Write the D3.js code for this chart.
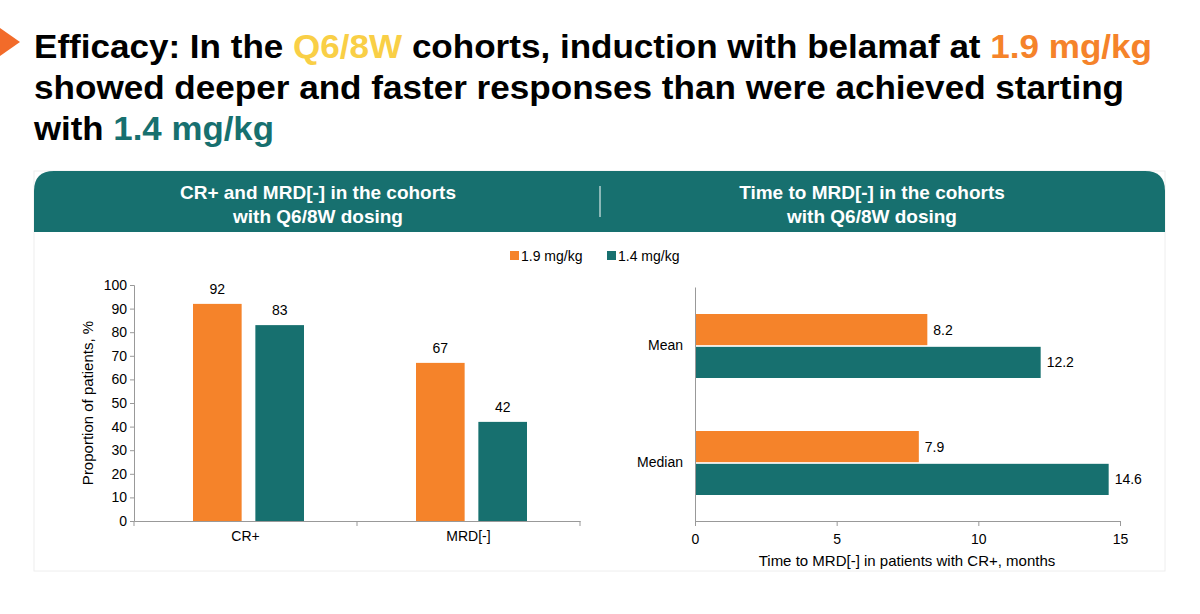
<!DOCTYPE html>
<html><head><meta charset="utf-8">
<script src="https://cdn.jsdelivr.net/npm/d3@7"></script>
<style>body{margin:0;background:#fff;font-family:"Liberation Sans",Arial,sans-serif}</style>
</head><body><svg id="c" width="1200" height="614"></svg>
<script>
var series = ["1.9 mg/kg", "1.4 mg/kg"];
var colors = ["#f5832a", "#17706f"];
var respCats = ["CR+", "MRD[-]"];
var respVals = [[92, 67], [83, 42]];   // per series
var timeCats = ["Mean", "Median"];
var timeVals = [[8.2, 7.9], [12.2, 14.6]];
var yTicks = d3.range(0, 101, 10);
var xTicks = [0, 5, 10, 15];

var svg = d3.select("#c");
var teal = "#17706f";

// title
var title = [
  [["Efficacy: In the ", "#000"], ["Q6/8W", "#f9cf46"], [" cohorts, induction with belamaf at ", "#000"], ["1.9 mg/kg", "#f5832a"]],
  [["showed deeper and faster responses than were achieved starting", "#000"]],
  [["with ", "#000"], ["1.4 mg/kg", teal]]
];
var titleLen = [1118, 1090, null];
svg.append("path").attr("d", "M0,28 L20,42 L0,56 Z").attr("fill", "#f26b2a");
title.forEach(function(line, i) {
  var t = svg.append("text").attr("x", 34).attr("y", 58 + i * 41)
    .style("font-size", "34px").style("font-weight", "bold");
  if (titleLen[i]) t.attr("textLength", titleLen[i]).attr("lengthAdjust", "spacingAndGlyphs");
  else t.attr("textLength", 240).attr("lengthAdjust", "spacingAndGlyphs");
  line.forEach(function(p) { t.append("tspan").attr("fill", p[1]).text(p[0]); });
});

// header band
svg.append("rect").attr("x", 34).attr("y", 171).attr("width", 1131).attr("height", 400)
  .attr("fill", "none").attr("stroke", "#eee");
svg.append("path").attr("d", "M34,232 V191 Q34,171 54,171 H1145 Q1165,171 1165,191 V232 Z").attr("fill", teal);
svg.append("line").attr("x1", 600).attr("x2", 600).attr("y1", 186).attr("y2", 217).attr("stroke", "#fff");
[[318, ["CR+ and MRD[-] in the cohorts", "with Q6/8W dosing"]], [872, ["Time to MRD[-] in the cohorts", "with Q6/8W dosing"]]].forEach(function(h) {
  h[1].forEach(function(s, i) {
    svg.append("text").attr("x", h[0]).attr("y", 199 + i * 24).attr("text-anchor", "middle")
      .attr("fill", "#fff").style("font-size", "19px").style("font-weight", "bold").text(s);
  });
});

// legend
series.forEach(function(s, i) {
  var lx = 510 + i * 97;
  svg.append("rect").attr("x", lx).attr("y", 251).attr("width", 9).attr("height", 9).attr("fill", colors[i]);
  svg.append("text").attr("x", lx + 11).attr("y", 261).style("font-size", "14px").text(s);
});

// left chart
var y = d3.scaleLinear().domain([0, 100]).range([521, 285]);
var x0 = d3.scaleBand().domain(respCats).range([134, 580]);
var x1 = d3.scaleBand().domain([0, 1]).range([59, 170]).paddingInner(0.22);
var gl = svg.append("g");
respCats.forEach(function(c, ci) {
  series.forEach(function(s, si) {
    var v = respVals[si][ci], bx = x0(c) + x1(si);
    gl.append("rect").attr("x", bx).attr("y", y(v)).attr("width", x1.bandwidth())
      .attr("height", 521 - y(v)).attr("fill", colors[si]);
    gl.append("text").attr("x", bx + x1.bandwidth() / 2).attr("y", y(v) - 10)
      .attr("text-anchor", "middle").style("font-size", "14px").text(v);
  });
});
gl.append("g").attr("transform", "translate(134,0)")
  .call(d3.axisLeft(y).tickValues(yTicks).tickSize(4));
var xa = gl.append("g").attr("transform", "translate(0,521)")
  .call(d3.axisBottom(x0).tickSize(0).tickPadding(10));
xa.selectAll("line.b").data([134, 357, 580]).enter().append("line")
  .attr("x1", function(d) { return d; }).attr("x2", function(d) { return d; })
  .attr("y1", 0).attr("y2", 5).attr("stroke", "#999");
gl.append("text").attr("transform", "translate(93,403) rotate(-90)").attr("text-anchor", "middle")
  .style("font-size", "15px").text("Proportion of patients, %");

// right chart
var xr = d3.scaleLinear().domain([0, 15]).range([695, 1120]);
var yr0 = d3.scaleBand().domain(timeCats).range([287, 521]);
var yr1 = d3.scaleBand().domain([0, 1]).range([27, 91]).paddingInner(0.05);
var gr = svg.append("g");
timeCats.forEach(function(c, ci) {
  series.forEach(function(s, si) {
    var v = timeVals[si][ci], by = yr0(c) + yr1(si);
    gr.append("rect").attr("x", xr(0)).attr("y", by).attr("width", xr(v) - xr(0))
      .attr("height", yr1.bandwidth()).attr("fill", colors[si]);
    gr.append("text").attr("x", xr(v) + 6).attr("y", by + yr1.bandwidth() / 2 + 5)
      .style("font-size", "14px").text(v.toFixed(1));
  });
});
gr.append("g").attr("transform", "translate(695,0)")
  .call(d3.axisLeft(yr0).tickSize(0).tickPadding(12));
gr.append("g").attr("transform", "translate(0,521)")
  .call(d3.axisBottom(xr).tickValues(xTicks).tickSize(5).tickPadding(8));
gr.append("text").attr("x", 907).attr("y", 566).attr("text-anchor", "middle")
  .style("font-size", "15px").text("Time to MRD[-] in patients with CR+, months");

svg.selectAll(".domain, .tick line").attr("stroke", "#999");
svg.selectAll(".tick text").style("font-size", "14px").style("font-family", "Liberation Sans, Arial, sans-serif").attr("fill", "#000");
</script></body></html>
